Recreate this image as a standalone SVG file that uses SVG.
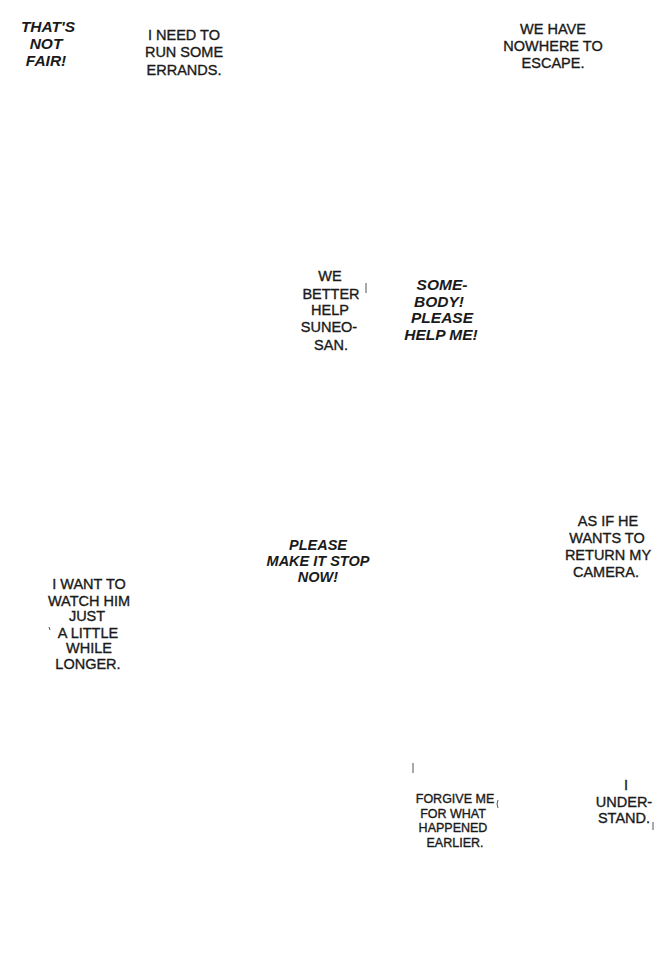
<svg xmlns="http://www.w3.org/2000/svg" width="654" height="971" viewBox="0 0 654 971">
<style>
.t{font-family:"Liberation Sans","DejaVu Sans",sans-serif;font-size:14.5px;fill:#1a1a1a;stroke:#1a1a1a;stroke-width:0.35;text-anchor:middle}
.s{font-weight:bold;font-style:italic;stroke-width:0}
.b{font-size:15.5px}
.m{font-size:12.5px}
.tick{stroke:#555;stroke-width:1}
</style>
<rect width="654" height="971" fill="#fff"/>
<g id="connectors"/>
<g id="b1"><text class="t s b"><tspan x="48" y="32">THAT'S</tspan><tspan x="46" y="49">NOT</tspan><tspan x="46" y="66">FAIR!</tspan></text></g>
<g id="b2"><text class="t"><tspan x="184" y="40">I NEED TO</tspan><tspan x="184" y="57">RUN SOME</tspan><tspan x="184" y="75">ERRANDS.</tspan></text></g>
<g id="b3"><text class="t"><tspan x="553" y="34">WE HAVE</tspan><tspan x="553" y="51">NOWHERE TO</tspan><tspan x="553" y="68">ESCAPE.</tspan></text></g>
<g id="b4"><text class="t"><tspan x="330" y="281">WE</tspan><tspan x="331" y="299">BETTER</tspan><tspan x="330" y="315">HELP</tspan><tspan x="329" y="332">SUNEO-</tspan><tspan x="331" y="350">SAN.</tspan></text><line class="tick" x1="366" y1="283" x2="366" y2="293"/></g>
<g id="b5"><text class="t s b"><tspan x="442" y="290">SOME-</tspan><tspan x="439" y="307">BODY!</tspan><tspan x="442" y="323">PLEASE</tspan><tspan x="441" y="340">HELP ME!</tspan></text></g>
<g id="b6"><text class="t s"><tspan x="318" y="550">PLEASE</tspan><tspan x="318" y="566">MAKE IT STOP</tspan><tspan x="318" y="582">NOW!</tspan></text></g>
<g id="b7"><text class="t"><tspan x="608" y="526">AS IF HE</tspan><tspan x="607" y="543">WANTS TO</tspan><tspan x="608" y="560">RETURN MY</tspan><tspan x="606" y="577">CAMERA.</tspan></text></g>
<g id="b8"><text class="t"><tspan x="89" y="589">I WANT TO</tspan><tspan x="89" y="606">WATCH HIM</tspan><tspan x="87" y="621">JUST</tspan><tspan x="88" y="638">A LITTLE</tspan><tspan x="89" y="653">WHILE</tspan><tspan x="88" y="669">LONGER.</tspan></text><line class="tick" x1="49" y1="627" x2="50" y2="630"/></g>
<g id="b9"><text class="t m"><tspan x="455" y="803">FORGIVE ME</tspan><tspan x="453" y="818">FOR WHAT</tspan><tspan x="453" y="832">HAPPENED</tspan><tspan x="455" y="847">EARLIER.</tspan></text><line class="tick" x1="413" y1="763" x2="413" y2="773"/><path class="tick" d="M498 800 Q496 804 498 808" fill="none"/></g>
<g id="b10"><text class="t"><tspan x="626" y="790">I</tspan><tspan x="624" y="807">UNDER-</tspan><tspan x="624" y="823">STAND.</tspan></text><line class="tick" x1="653" y1="822" x2="653" y2="830"/></g>
</svg>
